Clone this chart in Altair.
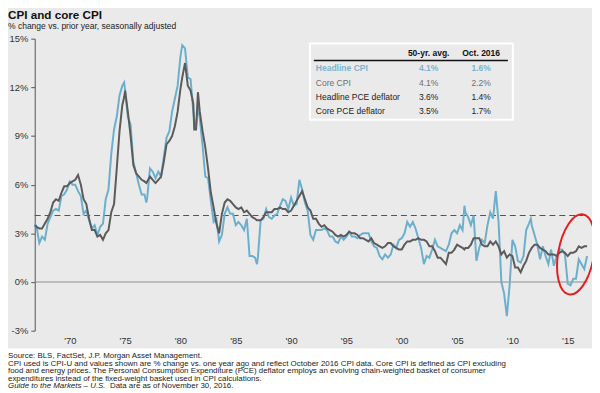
import altair as alt
import pandas as pd

# ---------------- data ----------------
dates = [
    "1966-11-01",
    "1967-01-01", "1967-04-01", "1967-07-01", "1967-10-01",
    "1968-01-01", "1968-04-01", "1968-07-01", "1968-10-01",
    "1969-01-01", "1969-04-01", "1969-07-01", "1969-10-01",
    "1970-01-01", "1970-04-01", "1970-07-01", "1970-10-01",
    "1971-01-01", "1971-04-01", "1971-07-01", "1971-10-01",
    "1972-01-01", "1972-04-01", "1972-07-01", "1972-10-01",
    "1973-01-01", "1973-04-01", "1973-07-01", "1973-10-01",
    "1974-01-01", "1974-04-01", "1974-07-01", "1974-10-01", "1974-12-01",
    "1975-01-01", "1975-04-01", "1975-07-01", "1975-10-01",
    "1976-01-01", "1976-04-01", "1976-07-01", "1976-10-01", "1976-12-01",
    "1977-01-01", "1977-04-01", "1977-07-01", "1977-10-01",
    "1978-01-01", "1978-04-01", "1978-07-01", "1978-10-01",
    "1979-01-01", "1979-04-01", "1979-07-01", "1979-10-01",
    "1980-01-01", "1980-03-01", "1980-06-01", "1980-09-01", "1980-12-01",
    "1981-03-01", "1981-04-01", "1981-06-01", "1981-08-01", "1981-10-01",
    "1982-01-01", "1982-04-01", "1982-07-01", "1982-10-01",
    "1983-01-01", "1983-04-01", "1983-07-01", "1983-10-01",
    "1984-01-01", "1984-04-01", "1984-07-01", "1984-10-01",
    "1985-01-01", "1985-04-01", "1985-07-01", "1985-10-01",
    "1986-01-01", "1986-04-01", "1986-07-01", "1986-10-01", "1986-12-01",
    "1987-01-01", "1987-04-01", "1987-07-01", "1987-10-01",
    "1988-01-01", "1988-04-01", "1988-07-01", "1988-10-01",
    "1989-01-01", "1989-04-01", "1989-07-01", "1989-10-01",
    "1990-01-01", "1990-04-01", "1990-07-01", "1990-10-01",
    "1991-01-01", "1991-04-01", "1991-07-01", "1991-10-01",
    "1992-01-01", "1992-04-01", "1992-07-01", "1992-10-01",
    "1993-01-01", "1993-04-01", "1993-07-01", "1993-10-01",
    "1994-01-01", "1994-04-01", "1994-07-01", "1994-10-01",
    "1995-01-01", "1995-04-01", "1995-07-01", "1995-10-01",
    "1996-01-01", "1996-04-01", "1996-07-01", "1996-10-01",
    "1997-01-01", "1997-04-01", "1997-07-01", "1997-10-01",
    "1998-01-01", "1998-04-01", "1998-07-01", "1998-10-01",
    "1999-01-01", "1999-04-01", "1999-07-01", "1999-10-01",
    "2000-01-01", "2000-04-01", "2000-07-01", "2000-10-01",
    "2001-01-01", "2001-04-01", "2001-07-01", "2001-10-01",
    "2002-01-01", "2002-04-01", "2002-07-01", "2002-10-01",
    "2003-01-01", "2003-04-01", "2003-07-01", "2003-10-01",
    "2004-01-01", "2004-04-01", "2004-07-01", "2004-10-01",
    "2005-01-01", "2005-04-01", "2005-07-01", "2005-09-01", "2005-10-01",
    "2006-01-01", "2006-04-01", "2006-07-01", "2006-10-01",
    "2007-01-01", "2007-04-01", "2007-07-01", "2007-10-01",
    "2008-01-01", "2008-04-01", "2008-07-01", "2008-10-01",
    "2009-01-01", "2009-04-01", "2009-07-01", "2009-10-01",
    "2010-01-01", "2010-04-01", "2010-07-01", "2010-10-01",
    "2011-01-01", "2011-04-01", "2011-07-01", "2011-09-01", "2011-10-01",
    "2012-01-01", "2012-04-01", "2012-07-01", "2012-10-01",
    "2013-01-01", "2013-04-01", "2013-07-01", "2013-10-01",
    "2014-01-01", "2014-04-01", "2014-07-01", "2014-10-01",
    "2015-01-01", "2015-04-01", "2015-07-01", "2015-10-01",
    "2016-01-01", "2016-04-01", "2016-07-01", "2016-10-01",
]

headline_cpi = [
    3.6,
    3.4, 2.4, 2.8, 2.6,
    3.6, 4.0, 4.4, 4.5,
    4.4, 5.3, 5.4, 5.7,
    6.2, 6.0, 6.0, 5.6,
    5.3, 4.2, 4.4, 3.8,
    3.3, 3.5, 2.9, 3.4,
    3.6, 5.1, 5.7, 7.9,
    9.4, 10.2, 11.5, 12.1, 12.3,
    11.8, 10.2, 9.7, 7.4,
    6.7, 6.0, 5.4, 5.4, 4.9,
    5.2, 7.0, 6.8, 6.4,
    6.8, 6.5, 7.7, 8.9,
    9.3, 10.5, 11.3, 12.1,
    13.9, 14.6, 14.4, 12.6, 12.5,
    10.5, 10.0, 9.6, 10.8, 10.1,
    8.4, 6.5, 6.4, 5.0,
    3.7, 3.9, 2.5, 2.9,
    4.2, 4.6, 4.2, 4.2,
    3.5, 3.7, 3.5, 3.2,
    3.9, 1.6, 1.6, 1.5, 1.1,
    1.5, 3.8, 3.9, 4.5,
    4.0, 3.9, 4.1, 4.2,
    4.7, 5.1, 5.0, 4.5,
    5.2, 4.7, 4.8, 6.3,
    5.7, 4.9, 4.4, 2.9,
    2.6, 3.2, 3.2, 3.2,
    3.3, 3.2, 2.8, 2.8,
    2.5, 2.4, 2.8, 2.6,
    2.8, 3.1, 2.8, 2.8,
    2.7, 2.9, 3.0, 3.0,
    3.0, 2.5, 2.2, 2.1,
    1.6, 1.4, 1.7, 1.5,
    1.7, 2.3, 2.1, 2.6,
    2.7, 3.0, 3.7, 3.4,
    3.7, 3.3, 2.7, 2.1,
    1.1, 1.6, 1.5, 2.0,
    2.6, 2.2, 2.1, 2.0,
    1.9, 2.3, 3.0, 3.2,
    3.0, 3.5, 3.2, 4.7, 4.3,
    4.0, 3.5, 4.1, 1.3,
    2.1, 2.6, 2.4, 3.5,
    4.3, 3.9, 5.6, 3.7,
    0.0, -0.7, -2.1, -0.2,
    2.6, 2.2, 1.3, 1.2,
    1.6, 3.2, 3.6, 3.9, 3.5,
    2.9, 2.3, 1.4, 2.2,
    1.6, 1.1, 2.0, 1.0,
    1.6, 2.0, 2.0, 1.7,
    -0.1, -0.2, 0.2, 0.2,
    1.4, 1.1, 0.8, 1.6,
]

core_cpi = [
    3.5,
    3.4, 3.3, 3.3, 3.6,
    3.9, 4.3, 4.9, 5.1,
    5.0, 5.5, 5.9, 5.9,
    6.1, 6.2, 6.3, 6.6,
    6.0, 5.1, 4.8, 3.9,
    3.2, 3.2, 2.8, 2.9,
    2.6, 3.0, 3.2, 4.3,
    4.8, 7.0, 9.3, 10.9, 11.4,
    11.8, 10.5, 9.0, 7.2,
    6.7, 6.5, 6.3, 6.2, 6.1,
    6.2, 6.5, 6.3, 6.1,
    6.3, 6.5, 7.4, 8.5,
    8.7, 9.0, 9.6, 10.5,
    11.9, 12.6, 13.5, 12.1, 11.8,
    11.0, 9.4, 9.4, 11.7, 10.5,
    9.3, 8.3, 7.0, 5.5,
    4.6, 3.6, 3.0, 4.2,
    4.9, 5.1, 5.0, 4.8,
    4.6, 4.5, 4.6, 4.3,
    4.4, 4.2, 4.0, 3.9, 3.8,
    3.8, 3.8, 4.0, 4.3,
    4.3, 4.3, 4.5, 4.5,
    4.6, 4.5, 4.5, 4.3,
    4.4, 4.7, 5.0, 5.3,
    5.6, 5.1, 4.6, 4.4,
    3.9, 3.9, 3.6, 3.4,
    3.5, 3.3, 3.2, 3.1,
    2.9, 2.8, 2.9, 2.8,
    2.9, 3.1, 3.0, 3.0,
    2.9, 2.7, 2.7, 2.6,
    2.5, 2.7, 2.4, 2.3,
    2.2, 2.1, 2.2, 2.4,
    2.4, 2.2, 2.1, 2.0,
    2.0, 2.3, 2.5, 2.5,
    2.6, 2.6, 2.7, 2.6,
    2.6, 2.5, 2.2, 2.2,
    1.9, 1.5, 1.5, 1.3,
    1.1, 1.8, 1.8, 2.0,
    2.3, 2.2, 2.1, 2.0, 2.1,
    2.1, 2.3, 2.7, 2.7,
    2.7, 2.3, 2.2, 2.2,
    2.5, 2.3, 2.5, 2.2,
    1.7, 1.9, 1.5, 1.7,
    1.6, 0.9, 0.9, 0.6,
    1.0, 1.3, 1.8, 2.0, 2.1,
    2.3, 2.3, 2.1, 2.0,
    1.9, 1.7, 1.7, 1.7,
    1.6, 1.8, 1.9, 1.8,
    1.6, 1.8, 1.8, 1.9,
    2.2, 2.1, 2.2, 2.2,
]

avg_line = 4.1
y_ticks = [-3, 0, 3, 6, 9, 12, 15]
x_tick_years = [1970, 1975, 1980, 1985, 1990, 1995, 2000, 2005, 2010, 2015]

table_labels = ["Headline CPI", "Core CPI", "Headline PCE deflator", "Core PCE deflator"]
avg_50yr = ["4.1%", "4.1%", "3.6%", "3.5%"]
oct_2016 = ["1.6%", "2.2%", "1.4%", "1.7%"]
table_headers = ["50-yr. avg.", "Oct. 2016"]

title = "CPI and core CPI"
subtitle = "% change vs. prior year, seasonally adjusted"
footnote = (
    "Source: BLS, FactSet, J.P. Morgan Asset Management.\n"
    "CPI used is CPI-U and values shown are % change vs. one year ago and reflect October 2016 CPI data. Core CPI is defined as CPI excluding\n"
    "food and energy prices. The Personal Consumption Expenditure (PCE) deflator employs an evolving chain-weighted basket of consumer\n"
    "expenditures instead of the fixed-weight basket used in CPI calculations."
)
footnote_italic = "Guide to the Markets \u2013 U.S."
footnote_last = "Data are as of November 30, 2016."

# ---------------- style ----------------
BLUE = "#6cafcd"
GRAY = "#5b5b5b"
BG = "#eaeaea"
FONT = "Liberation Sans"
W, H = 559, 295
FOOT_SIZE = 8.0

df = pd.DataFrame({"date": dates, "headline": headline_cpi, "core": core_cpi})

x_scale = alt.Scale(
    type="utc",
    domain=[alt.DateTime(year=1966, month=11, date=1, utc=True),
            alt.DateTime(year=2016, month=11, date=1, utc=True)],
)
y_scale = alt.Scale(domain=[-3, 15], nice=False, zero=False)

x_axis = alt.Axis(
    values=[alt.DateTime(year=y, month=1, date=1, utc=True) for y in x_tick_years],
    format="'%y", ticks=False, tickSize=0, domain=False, grid=False,
    labelPadding=5, labelFontSize=9.5, labelColor="#333", labelFont=FONT,
    title=None,
)
y_axis = alt.Axis(
    values=y_ticks, labelExpr="datum.value + '%'", grid=False,
    domainColor="#555", tickColor="#555", tickSize=4, labelPadding=3,
    labelFontSize=9.5, labelColor="#333", labelFont=FONT, title=None,
)

base = alt.Chart(df)

headline_line = base.mark_line(color=BLUE, strokeWidth=2).encode(
    x=alt.X("date:T", scale=x_scale, axis=x_axis),
    y=alt.Y("headline:Q", scale=y_scale, axis=y_axis),
)
core_line = base.mark_line(color=GRAY, strokeWidth=2).encode(
    x=alt.X("date:T", scale=x_scale),
    y=alt.Y("core:Q", scale=y_scale),
)

one = pd.DataFrame({"a": [0]})

footer_bg = alt.Chart(one).mark_rect(fill="white").encode(
    x=alt.value(-40), x2=alt.value(W + 10), y=alt.value(313), y2=alt.value(H + 70)
)

zero_rule = alt.Chart(pd.DataFrame({"y": [0]})).mark_rule(color="#8c8c8c", strokeWidth=1).encode(
    y=alt.Y("y:Q", scale=y_scale)
)
avg_rule = alt.Chart(pd.DataFrame({"y": [avg_line]})).mark_rule(
    color="#555", strokeWidth=1.2, strokeDash=[6, 4]
).encode(y=alt.Y("y:Q", scale=y_scale), x=alt.value(0), x2=alt.value(W - 5))

# table
tbl_box = alt.Chart(one).mark_rect(fill=BG, stroke="white", strokeWidth=2).encode(
    x=alt.value(278), x2=alt.value(483), y=alt.value(5), y2=alt.value(82)
)
tbl_rule = alt.Chart(one).mark_rule(color="#111", strokeWidth=1.5).encode(
    x=alt.value(282), x2=alt.value(478), y=alt.value(22)
)
row_y = [30, 44.5, 59, 73.5]
row_colors = ["#7ab5d0", "#6e6e6e", "#222", "#222"]
col_x = [398, 451]
TBL_SIZE = 8.6
layers_tbl = []
for j, h in enumerate(table_headers):
    layers_tbl.append(
        alt.Chart(pd.DataFrame({"t": [h]})).mark_text(
            font=FONT, fontSize=TBL_SIZE, fontWeight="bold", color="#111", align="center", baseline="middle"
        ).encode(text="t:N", x=alt.value(col_x[j]), y=alt.value(15))
    )
for i in range(len(table_labels)):
    layers_tbl.append(
        alt.Chart(pd.DataFrame({"t": [table_labels[i]]})).mark_text(
            font=FONT, fontSize=TBL_SIZE, color=row_colors[i], align="left", baseline="middle",
            fontWeight="bold" if i == 0 else "normal",
        ).encode(text="t:N", x=alt.value(284), y=alt.value(row_y[i]))
    )
    for j, col in enumerate([avg_50yr, oct_2016]):
        layers_tbl.append(
            alt.Chart(pd.DataFrame({"t": [col[i]]})).mark_text(
                font=FONT, fontSize=TBL_SIZE, color=row_colors[i], align="center", baseline="middle",
                fontWeight="bold" if i == 0 else "normal",
            ).encode(text="t:N", x=alt.value(col_x[j]), y=alt.value(row_y[i]))
        )

# red ellipse highlight
ellipse_path = "M -0.44 0 A 0.44 1 0 1 1 0.44 0 A 0.44 1 0 1 1 -0.44 0 Z"
ellipse = alt.Chart(pd.DataFrame({"date": ["2015-10-01"], "v": [1.7]})).mark_point(
    shape=ellipse_path, size=6724, filled=False, stroke="#e02020", strokeWidth=2,
    opacity=1, angle=10,
).encode(x=alt.X("date:T", scale=x_scale), y=alt.Y("v:Q", scale=y_scale))

# texts
title_t = alt.Chart(pd.DataFrame({"t": [title]})).mark_text(
    font=FONT, fontSize=11.8, fontWeight="bold", color="#111", align="left", baseline="alphabetic"
).encode(text="t:N", x=alt.value(-27), y=alt.value(-20))
subtitle_t = alt.Chart(pd.DataFrame({"t": [subtitle]})).mark_text(
    font=FONT, fontSize=8.6, color="#222", align="left", baseline="alphabetic"
).encode(text="t:N", x=alt.value(-27), y=alt.value(-9.5))
foot_t = alt.Chart(pd.DataFrame({"t": [footnote]})).mark_text(
    font=FONT, fontSize=FOOT_SIZE, color="#222", align="left", baseline="alphabetic",
    lineBreak="\n", lineHeight=7.6,
).encode(text="t:N", x=alt.value(-27), y=alt.value(323))
foot_i = alt.Chart(pd.DataFrame({"t": [footnote_italic]})).mark_text(
    font=FONT, fontSize=FOOT_SIZE, fontStyle="italic", color="#222", align="left", baseline="alphabetic",
).encode(text="t:N", x=alt.value(-27), y=alt.value(353.4))
foot_l = alt.Chart(pd.DataFrame({"t": [footnote_last]})).mark_text(
    font=FONT, fontSize=FOOT_SIZE, color="#222", align="left", baseline="alphabetic",
).encode(text="t:N", x=alt.value(76), y=alt.value(353.4))

chart = alt.layer(
    footer_bg, zero_rule, avg_rule, headline_line, core_line,
    tbl_box, tbl_rule, *layers_tbl, ellipse,
    title_t, subtitle_t, foot_t, foot_i, foot_l,
).properties(
    width=W, height=H,
    padding={"left": 27, "top": 29, "right": 4, "bottom": 61},
    autosize=alt.AutoSizeParams(type="none"),
    background=BG,
).configure_view(stroke=None)

chart.save("out.html", embed_options={"renderer": "svg", "actions": False})
